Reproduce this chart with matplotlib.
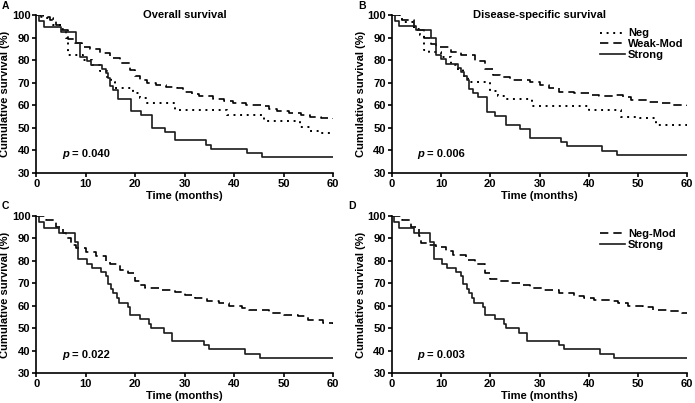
import matplotlib
matplotlib.use("Agg")
import matplotlib.pyplot as plt
from matplotlib.transforms import offset_copy

plt.rcParams['font.family'] = ['Liberation Sans', 'DejaVu Sans']
plt.rcParams['font.weight'] = 'bold'

# ---------------- data ----------------
x_ticks = [0, 10, 20, 30, 40, 50, 60]
y_ticks = [30, 40, 50, 60, 70, 80, 90, 100]

# Panel A - Overall survival
a_strong_t = [0, 0.5, 1.5, 4.9, 8.0, 8.9, 10.3, 11.0, 13.3, 14.0, 14.4, 15.0, 15.5, 16.6, 19.2, 21.1, 23.3, 26.0, 28.0, 34.4, 35.4, 42.6, 45.7, 60]
a_strong_s = [100, 97.2, 94.6, 92.6, 87.5, 81.4, 79.6, 77.8, 75.9, 74.1, 72.2, 68.5, 66.7, 63.0, 57.4, 55.6, 50.0, 48.1, 44.4, 42.6, 40.7, 38.9, 37.0, 37.0]
a_weak_t = [0, 1.0, 2.8, 4.0, 5.1, 6.5, 7.8, 9.2, 10.8, 12.9, 14.9, 16.9, 18.9, 20.0, 20.9, 22.3, 24.3, 26.3, 28.4, 29.7, 31.5, 33.0, 35.8, 38.0, 39.8, 42.5, 45.9, 47.0, 48.6, 51.2, 53.5, 55.3, 57.5, 60]
a_weak_s = [100, 99.0, 97.8, 95.5, 93.4, 89.2, 87.8, 86.0, 84.8, 83.0, 80.8, 78.6, 75.7, 73.0, 71.3, 69.8, 69.0, 68.0, 67.6, 66.1, 65.0, 63.9, 62.7, 62.0, 61.0, 60.2, 59.5, 58.2, 57.3, 56.5, 55.8, 55.0, 54.5, 54.0]
a_neg_t = [0, 1.4, 3.4, 5.1, 6.1, 6.5, 8.8, 9.5, 11.2, 12.9, 14.2, 15.2, 15.9, 19.6, 20.9, 22.3, 28.0, 38.5, 46.0, 53.3, 55.3, 57.3, 60]
a_neg_s = [100, 98.5, 95.6, 94.0, 89.7, 82.3, 82.3, 80.0, 77.9, 75.0, 72.7, 70.5, 67.6, 65.4, 63.2, 61.0, 57.8, 55.8, 53.0, 50.6, 48.4, 47.5, 47.5]

# Panel B - Disease-specific survival
b_strong_t = [0, 0.7, 1.5, 5.0, 8.0, 8.9, 10.0, 11.0, 13.5, 14.0, 14.6, 15.2, 15.6, 16.5, 17.5, 19.4, 21.0, 23.2, 26.0, 28.0, 34.3, 35.5, 42.7, 45.7, 60]
b_strong_s = [100, 97.2, 95.3, 93.5, 89.8, 82.2, 80.4, 78.5, 76.6, 74.8, 72.9, 71.0, 67.3, 65.4, 63.6, 57.0, 55.1, 51.3, 49.4, 45.6, 43.7, 41.8, 39.9, 38.0, 38.0]
b_weak_t = [0, 2.0, 4.5, 6.5, 8.0, 9.0, 12.0, 14.0, 17.0, 19.0, 20.5, 22.0, 24.0, 28.0, 30.0, 32.0, 34.0, 37.0, 40.0, 42.0, 45.0, 47.0, 48.5, 52.0, 54.0, 57.0, 60]
b_weak_s = [100, 98.0, 93.5, 90.0, 87.0, 86.0, 83.5, 82.5, 79.5, 76.0, 73.5, 72.5, 71.0, 70.5, 69.0, 67.5, 66.0, 65.5, 64.5, 64.0, 64.5, 63.5, 62.5, 61.5, 61.0, 60.0, 59.5]
b_neg_t = [0, 2.0, 4.5, 5.8, 6.5, 7.5, 10.0, 12.0, 13.0, 14.5, 15.5, 20.0, 21.5, 23.0, 28.5, 40.0, 46.5, 50.5, 53.7, 60]
b_neg_s = [100, 97.0, 94.0, 91.0, 84.5, 83.5, 81.5, 78.0, 76.0, 73.0, 70.5, 66.5, 64.0, 63.0, 59.8, 58.0, 55.0, 54.5, 51.3, 51.3]

# Panels C and D - Strong
cd_strong_t = [0, 0.5, 1.5, 4.5, 7.8, 8.5, 10.3, 11.3, 13.0, 14.0, 14.5, 15.2, 15.6, 16.3, 16.8, 18.5, 19.0, 21.0, 22.8, 23.2, 25.8, 27.5, 34.0, 35.0, 42.3, 45.2, 60]
cd_strong_s = [100, 97.2, 94.4, 92.5, 88.5, 80.6, 78.6, 76.8, 75.0, 73.0, 69.5, 67.5, 65.5, 63.5, 61.3, 59.5, 55.9, 53.9, 51.8, 50.0, 48.1, 44.3, 42.5, 40.6, 38.6, 36.7, 36.7]
# Panel C - Neg-Mod
c_negmod_t = [0, 2.0, 4.0, 5.5, 6.0, 7.0, 8.0, 10.0, 12.0, 14.0, 15.0, 17.0, 18.5, 20.0, 21.0, 22.0, 25.0, 28.0, 30.0, 32.0, 34.5, 37.0, 39.0, 41.5, 43.0, 47.0, 50.0, 53.0, 55.0, 58.0, 60]
c_negmod_s = [100, 98.0, 95.0, 92.5, 90.0, 87.0, 85.7, 84.0, 82.0, 80.0, 78.5, 76.0, 74.5, 71.0, 69.0, 68.0, 67.2, 66.3, 65.0, 63.5, 62.0, 61.2, 60.0, 59.0, 58.3, 56.8, 56.0, 55.3, 53.6, 52.5, 52.0]
# Panel D - Neg-Mod
d_negmod_t = [0, 2.0, 4.0, 5.5, 6.0, 7.5, 9.0, 11.0, 12.5, 15.0, 17.0, 19.0, 20.0, 22.0, 24.0, 26.0, 28.0, 31.0, 34.0, 37.0, 39.0, 41.0, 45.0, 46.0, 48.0, 51.0, 53.0, 56.0, 59.0, 60]
d_negmod_s = [100, 98.0, 95.0, 91.0, 88.0, 87.0, 86.0, 84.5, 82.5, 80.5, 78.5, 74.5, 72.0, 71.0, 70.0, 69.3, 68.0, 67.0, 65.5, 64.5, 63.5, 62.7, 62.3, 61.3, 60.0, 59.5, 58.3, 57.8, 57.0, 56.7]

titles = {"A": "Overall survival", "B": "Disease-specific survival", "C": "", "D": ""}
pvals = {"A": "0.040", "B": "0.006", "C": "0.022", "D": "0.003"}

# ---------------- styles ----------------
DOT = (0, (1.0, 2.4))
DASH = (0, (5.0, 3.0))
LW = 1.2
FS = 8

W, H = 695, 403
fig = plt.figure(figsize=(W / 100, H / 100), dpi=100)

def rect(l, r, t, b):
    return [l / W, 1 - b / H, (r - l) / W, (b - t) / H]

axA = fig.add_axes(rect(36.3, 333, 15, 173))
axB = fig.add_axes(rect(391.7, 687.3, 15, 173))
axC = fig.add_axes(rect(36.3, 333, 215.7, 373.3))
axD = fig.add_axes(rect(391.7, 687.3, 215.7, 373.3))

def style(ax, letter):
    ax.set_xlim(0, 60)
    ax.set_ylim(30, 100)
    ax.set_xticks(x_ticks)
    ax.set_yticks(y_ticks)
    for s in ['top', 'right']:
        ax.spines[s].set_visible(False)
    for s in ['left', 'bottom']:
        ax.spines[s].set_linewidth(1.2)
    ax.tick_params(direction='out', length=3.0, width=1.2, labelsize=FS, pad=1.2)
    for lab in ax.get_xticklabels() + ax.get_yticklabels():
        lab.set_fontweight('bold')
    ax.set_xlabel("Time (months)", fontsize=FS, fontweight='bold', labelpad=1.5)
    ax.set_ylabel("Cumulative survival (%)", fontsize=FS, fontweight='bold', labelpad=1)
    if titles[letter]:
        ax.text(30, 100, titles[letter], ha='center', va='center', fontsize=FS, fontweight='bold')
    ax.text(5.2, 38.2, "p", fontsize=FS, fontweight='bold', fontstyle='italic', ha='left', va='center')
    tr = offset_copy(ax.transData, fig=fig, x=7.2, y=0, units='points')
    ax.text(5.2, 38.2, "= " + pvals[letter], fontsize=FS, fontweight='bold', ha='left', va='center', transform=tr)

LEG = dict(loc='upper left', bbox_to_anchor=(0.705, 0.915), frameon=False,
           handlelength=2.2, handletextpad=0.3, labelspacing=0.05, borderpad=0, borderaxespad=0,
           prop={'weight': 'bold', 'size': FS})

# Panel A
axA.step(a_neg_t, a_neg_s, where='post', color='black', lw=1.4, linestyle=DOT, label='Neg')
axA.step(a_weak_t, a_weak_s, where='post', color='black', lw=LW, linestyle=DASH, label='Weak-Mod')
axA.step(a_strong_t, a_strong_s, where='post', color='#1a1a1a', lw=LW, label='Strong')
style(axA, "A")

# Panel B
axB.step(b_neg_t, b_neg_s, where='post', color='black', lw=1.4, linestyle=DOT, label='Neg')
axB.step(b_weak_t, b_weak_s, where='post', color='black', lw=LW, linestyle=DASH, label='Weak-Mod')
axB.step(b_strong_t, b_strong_s, where='post', color='#1a1a1a', lw=LW, label='Strong')
style(axB, "B")
axB.legend(**LEG)

# Panel C
axC.step(c_negmod_t, c_negmod_s, where='post', color='black', lw=LW, linestyle=DASH, label='Neg-Mod')
axC.step(cd_strong_t, cd_strong_s, where='post', color='#1a1a1a', lw=LW, label='Strong')
style(axC, "C")

# Panel D
axD.step(d_negmod_t, d_negmod_s, where='post', color='black', lw=LW, linestyle=DASH, label='Neg-Mod')
axD.step(cd_strong_t, cd_strong_s, where='post', color='#1a1a1a', lw=LW, label='Strong')
style(axD, "D")
axD.legend(**LEG)

# panel letters
for letter, (px, py) in {"A": (2, 6), "B": (358, 6), "C": (2, 206), "D": (348, 206)}.items():
    fig.text(px / W, 1 - py / H, letter, fontsize=7.5, fontweight='bold', ha='left', va='center')

fig.savefig("out.png", dpi=100)
